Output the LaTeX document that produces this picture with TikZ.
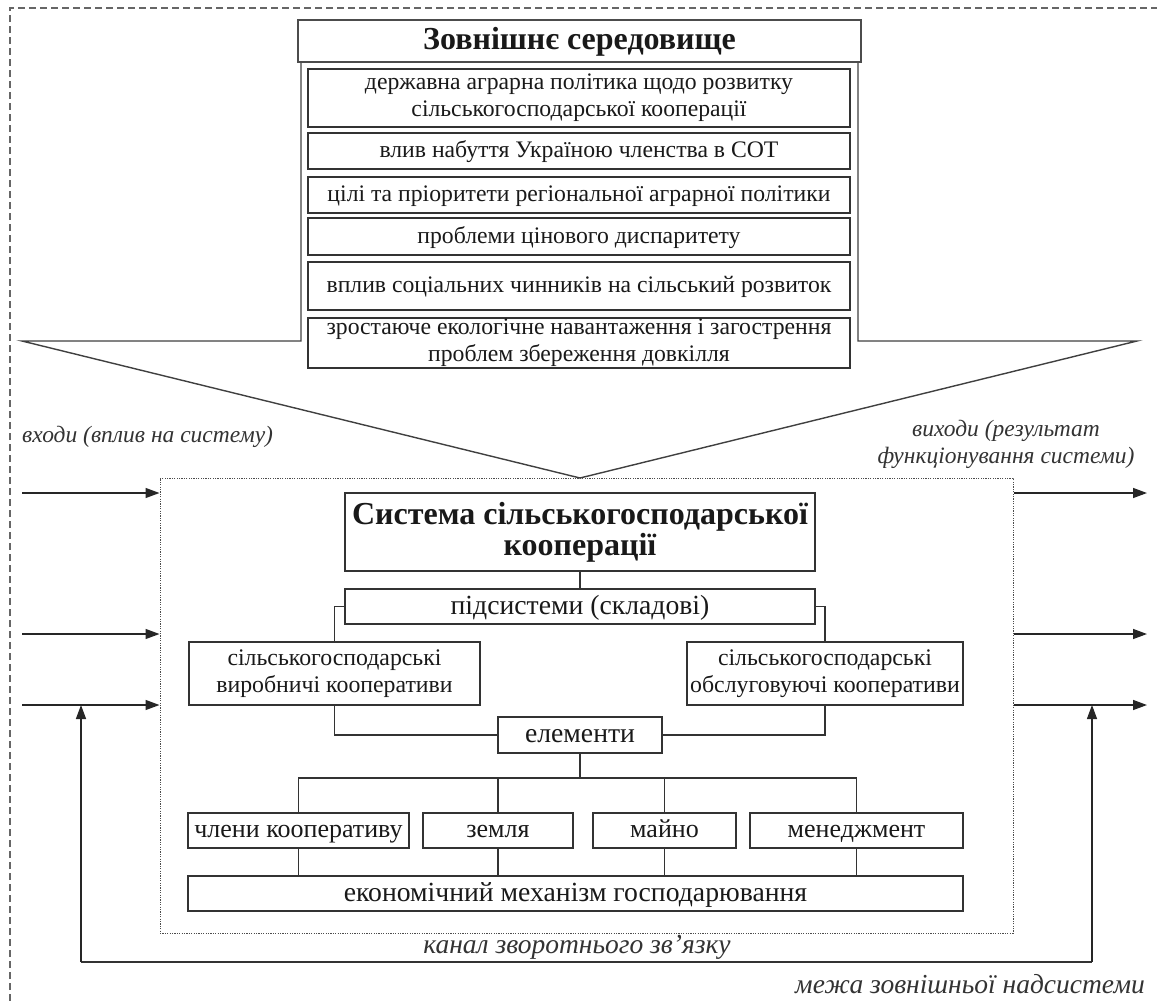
\documentclass[tikz,border=0pt]{standalone}
\usepackage{fontspec}
\setmainfont{Liberation Serif}
\usetikzlibrary{arrows.meta}
\begin{document}
\begin{tikzpicture}[x=1pt,y=-1pt,
  box/.style={draw=black!80, line width=1.3pt, fill=white, inner sep=0pt, align=center, text=black!90},
  envbox/.style={box, minimum width=542, font=\fontsize{23.7}{27}\selectfont},
  envone/.style={envbox, text height=17.8pt, text depth=4.7pt},
  sbox/.style={box, font=\fontsize{23.8}{27}\selectfont},
  lbox/.style={box, minimum height=35, font=\fontsize{27.7}{30}\selectfont, text height=20.8pt, text depth=5.5pt},
  mbox/.style={box, minimum height=35, font=\fontsize{26}{30}\selectfont, text height=19.5pt, text depth=5.2pt},
  conn/.style={draw=black!80, line width=1.3pt},
  arr/.style={draw=black!85, line width=1.4pt, -{Triangle[length=14pt,width=10pt]}},
  lab/.style={font=\fontsize{23.5}{27}\selectfont\itshape, text=black!80, inner sep=0pt},
  bigarrow/.style={draw=black!75, line width=1.4pt, fill=white, line join=miter},
  outerdash/.style={draw=black!60, line width=2pt, dash pattern=on 7pt off 4pt},
  frame/.style={draw=black!70, line width=1pt, dash pattern=on 1.2pt off 1.2pt, inner sep=0pt}
]
\useasboundingbox (0,0) rectangle (1157,1001);
% outer boundary of the supersystem
\coordinate (oTL) at (10,8);
\coordinate (oTR) at (1157,8);
\coordinate (oBL) at (10,1001);
\draw[outerdash] (oBL) -- (oTL) -- (oTR);

% big arrow of the environment
\coordinate (a1) at (301,62);
\coordinate (a2) at (301,341);
\coordinate (a3) at (22,341);
\coordinate (tip) at (580,478);
\coordinate (a5) at (1137,341);
\coordinate (a6) at (858,341);
\coordinate (a7) at (858,62);
\draw[bigarrow] (a1) -- (a2) -- (a3) -- (tip) -- (a5) -- (a6) -- (a7);

% environment boxes
\node[box, draw=black!70, line width=1.6pt, minimum width=563, minimum height=42,
      font=\fontsize{32}{34}\selectfont\bfseries, text height=24pt, text depth=6.4pt] (title) at (579.5,41) {Зовнішнє середовище};
\node[envbox, minimum height=58] (e1) at (579,98) {державна аграрна політика щодо розвитку\\сільськогосподарської кооперації};
\node[envone, minimum height=36] (e2) at (579,151) {влив набуття Україною членства в СОТ};
\node[envone, minimum height=36] (e3) at (579,195) {цілі та пріоритети регіональної аграрної політики};
\node[envone, minimum height=37] (e4) at (579,236.5) {проблеми цінового диспаритету};
\node[envone, minimum height=48] (e5) at (579,286) {вплив соціальних чинників на сільський розвиток};
\node[envbox, minimum height=50] (e6) at (579,343) {зростаюче екологічне навантаження і загострення\\проблем збереження довкілля};

% labels
\node[lab, anchor=west] (inlab) at (22,437) {входи (вплив на систему)};
\node[lab, align=center] (outlab) at (1006,444) {виходи (результат\\функціонування системи)};
\node[lab, font=\fontsize{27.5}{30}\selectfont\itshape] (fblab) at (577,947) {канал зворотнього зв’язку};
\node[lab, anchor=base east, font=\fontsize{27.5}{30}\selectfont\itshape] (bound) at (1145,993) {межа зовнішньої надсистеми};

% system frame
\node[frame, minimum width=853, minimum height=455] (sysf) at (586.5,705.5) {};

% system boxes
\node[box, minimum width=470, minimum height=78, font=\fontsize{32}{31}\selectfont\bfseries] (sys) at (580,532) {Система сільськогосподарської\\кооперації};
\node[lbox, minimum width=470] (sub) at (580,606.5) {підсистеми (складові)};
\node[sbox, minimum width=291, minimum height=63] (lc) at (334.5,673.5) {сільськогосподарські\\виробничі кооперативи};
\node[sbox, minimum width=276, minimum height=63] (rc) at (825,673.5) {сільськогосподарські\\обслуговуючі кооперативи};
\node[lbox, minimum width=164, minimum height=36] (elem) at (580,735) {елементи};
\node[mbox, minimum width=221] (b1) at (298.5,830.5) {члени кооперативу};
\node[mbox, minimum width=150] (b2) at (498,830.5) {земля};
\node[mbox, minimum width=143] (b3) at (664.5,830.5) {майно};
\node[mbox, minimum width=213] (b4) at (856.5,830.5) {менеджмент};
\node[lbox, minimum width=775] (econ) at (575.5,893.5) {економічний механізм господарювання};

% connectors inside the system
\draw[conn] (sys.south) -- (sub.north);
\draw[conn] (sub.west) -| (lc.north);
\draw[conn] (sub.east) -| (rc.north);
\draw[conn] (lc.south) |- (elem.west);
\draw[conn] (rc.south) |- (elem.east);
\coordinate (bar) at (580,778);
\draw[conn] (elem.south) -- (bar);
\draw[conn] (bar) -| (b1.north);
\draw[conn] (bar) -| (b2.north);
\draw[conn] (bar) -| (b3.north);
\draw[conn] (bar) -| (b4.north);
\draw[conn] (b1.south) -- (b1.south |- econ.north);
\draw[conn] (b2.south) -- (b2.south |- econ.north);
\draw[conn] (b3.south) -- (b3.south |- econ.north);
\draw[conn] (b4.south) -- (b4.south |- econ.north);

% inputs
\coordinate (in1) at (22,493);
\coordinate (in2) at (22,634);
\coordinate (in3) at (22,705);
\draw[arr] (in1) -- (in1 -| sysf.west);
\draw[arr] (in2) -- (in2 -| sysf.west);
\draw[arr] (in3) -- (in3 -| sysf.west);
% outputs
\coordinate (out1) at (1147,493);
\coordinate (out2) at (1147,634);
\coordinate (out3) at (1147,705);
\draw[arr] (out1 -| sysf.east) -- (out1);
\draw[arr] (out2 -| sysf.east) -- (out2);
\draw[arr] (out3 -| sysf.east) -- (out3);
% feedback channel
\coordinate (fbL) at (81,962);
\coordinate (fbR) at (1092,962);
\draw[conn] (fbL) -- (fbR);
\draw[arr] (fbL) -- (fbL |- in3);
\draw[arr] (fbR) -- (fbR |- out3);
\end{tikzpicture}
\end{document}
